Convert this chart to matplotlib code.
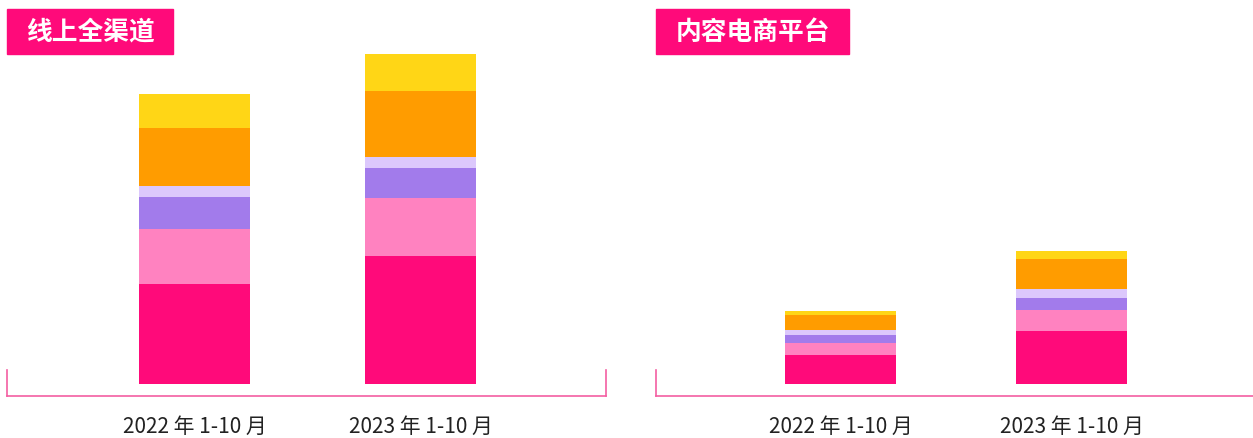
import matplotlib.pyplot as plt
from matplotlib.patches import Rectangle

plt.rcParams['font.family'] = ['Noto Sans CJK SC', 'DejaVu Sans']

periods = ["2022 年 1-10 月", "2023 年 1-10 月"]
panel_titles = ["线上全渠道", "内容电商平台"]

# stacked segments, bottom to top (same scale in both panels)
online_s1 = [100, 128]
online_s2 = [55, 58]
online_s3 = [32, 30]
online_s4 = [11, 11]
online_s5 = [58, 66]
online_s6 = [34, 37]

content_s1 = [29, 53]
content_s2 = [12, 21]
content_s3 = [8, 12]
content_s4 = [5, 9]
content_s5 = [15, 30]
content_s6 = [4, 8]

colors = ["#FF0A7A", "#FF82C0", "#A27BEB", "#DCC8FC", "#FF9C00", "#FFD616"]
line_color = "#F45FA2"

W, H = 1253, 438
fig = plt.figure(figsize=(W / 100, H / 100), dpi=100)


def px_axes(x0, x1, y_top, y_bottom):
    return fig.add_axes([x0 / W, 1 - y_bottom / H, (x1 - x0) / W, (y_bottom - y_top) / H])


def draw_panel(ax, series, xlim, width, right_tick):
    bottom = [0] * len(periods)
    xs = range(len(periods))
    for vals, c in zip(series, colors):
        ax.bar(xs, vals, width=width, bottom=bottom, color=c, linewidth=0)
        bottom = [b + v for b, v in zip(bottom, vals)]
    ax.set_xlim(*xlim)
    ax.set_ylim(-12, 384)
    ax.set_yticks([])
    ax.set_xticks(list(xs))
    ax.set_xticklabels(periods, fontsize=15, color="#222222")
    ax.tick_params(axis="x", length=0, pad=14.5)
    ax.spines["top"].set_visible(False)
    for side in ["bottom", "left", "right"]:
        ax.spines[side].set_color(line_color)
        ax.spines[side].set_linewidth(1.2)
    ax.spines["left"].set_bounds(-12, 14)
    if right_tick:
        ax.spines["right"].set_bounds(-12, 14)
    else:
        ax.spines["right"].set_visible(False)
    ax.patch.set_alpha(0)


ax1 = px_axes(7, 606, 0, 396)
draw_panel(ax1, [online_s1, online_s2, online_s3, online_s4, online_s5, online_s6],
           (-0.83, 1.82), 0.49, True)

ax2 = px_axes(656, 1253, 0, 396)
draw_panel(ax2, [content_s1, content_s2, content_s3, content_s4, content_s5, content_s6],
           (-0.80, 1.786), 0.48, False)

# title tags
for title, (x0, x1) in zip(panel_titles, [(7, 173), (656, 849)]):
    fig.patches.append(Rectangle((x0 / W, 1 - 54 / H), (x1 - x0) / W, 45 / H,
                                 transform=fig.transFigure, color="#FF0A7A", zorder=0))
    fig.text((x0 + x1) / 2 / W, 1 - 32 / H, title, color="white", fontsize=18.5,
             fontweight="bold", ha="center", va="center")

fig.savefig("out.png", dpi=100)
